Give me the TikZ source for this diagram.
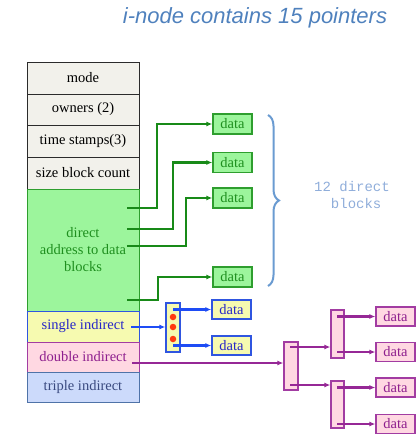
\documentclass[tikz,border=0pt]{standalone}
\usepackage{fontspec}
\setmainfont{Liberation Serif}
\newfontfamily\titlefont{Liberation Sans}
\newfontfamily\codefont{Liberation Mono}
\usetikzlibrary{arrows.meta,decorations.pathreplacing}

\definecolor{hdrfill}{HTML}{F2F1EB}
\definecolor{hdrline}{HTML}{2B2B2B}
\definecolor{grfill}{HTML}{9CF59C}
\definecolor{grline}{HTML}{2E9E2E}
\definecolor{grtext}{HTML}{1F8F1F}
\definecolor{grarrow}{HTML}{188A18}
\definecolor{yefill}{HTML}{F6FAB0}
\definecolor{blline}{HTML}{2F55E0}
\definecolor{bltext}{HTML}{2626C8}
\definecolor{blarrow}{HTML}{1E4CF5}
\definecolor{pkfill}{HTML}{FFD8E2}
\definecolor{puline}{HTML}{A23CA2}
\definecolor{putext}{HTML}{8E1F8E}
\definecolor{puarrow}{HTML}{962896}
\definecolor{trfill}{HTML}{CCDAFB}
\definecolor{trline}{HTML}{4F73A8}
\definecolor{trtext}{HTML}{3A4A80}
\definecolor{dotred}{HTML}{FF3A10}
\definecolor{titleblue}{HTML}{4F81BD}
\definecolor{bracecol}{HTML}{6A9BD1}
\definecolor{notecol}{HTML}{8FADDA}

\newcommand{\cellfont}{\fontsize{14.5}{17}\selectfont}

\begin{document}
\begin{tikzpicture}[x=1pt,y=-1pt,
  cell/.style={draw=hdrline, fill=hdrfill, line width=1pt, minimum width=112pt,
    inner sep=0pt, font=\cellfont, text=black},
  gdata/.style={draw=grline, fill=grfill, text=grtext, line width=1.3pt,
    minimum width=39pt, minimum height=20pt, inner sep=0pt, font=\cellfont},
  bdata/.style={draw=blline, fill=yefill, text=bltext, line width=1.3pt,
    minimum width=39pt, minimum height=19pt, inner sep=0pt, font=\cellfont},
  pdata/.style={draw=puline, fill=pkfill, text=putext, line width=1.3pt,
    minimum width=39pt, minimum height=19pt, inner sep=0pt, font=\cellfont},
  ptrblk/.style={line width=1.3pt, minimum width=14pt, inner sep=0pt},
  garrow/.style={draw=grarrow, line width=2.2pt, -{Latex[length=6pt,width=5pt]}},
  barrow/.style={draw=blarrow, line width=2.2pt, -{Latex[length=6pt,width=5pt]}},
  parrow/.style={draw=puarrow, line width=2.2pt, -{Latex[length=6pt,width=5pt]}},
  reddot/.style={circle, fill=dotred, inner sep=0pt, minimum size=6.5pt}
]
\useasboundingbox (0,0) rectangle (420,434);

% heading
\node[font=\titlefont\itshape\fontsize{22}{26}\selectfont, text=titleblue]
  (title) at (255,18) {i-node contains 15 pointers};

% i-node table
\node[cell, minimum height=32pt] (mode)   at (83,78)    {mode};
\node[cell, minimum height=31pt] (owners) at (83,109.5) {owners (2)};
\node[cell, minimum height=32pt] (times)  at (83,141)   {time stamps(3)};
\node[cell, minimum height=32pt] (size)   at (83,173)   {size block count};
\node[cell, minimum height=122pt, fill=grfill, draw=grline, text=grtext,
  align=center] (direct) at (83,250) {direct\\address to data\\blocks};
\node[cell, minimum height=31pt, fill=yefill, draw=blline, text=bltext]
  (single) at (83,326.5) {single indirect};
\node[cell, minimum height=30pt, fill=pkfill, draw=puline, text=putext]
  (double) at (83,357) {double indirect};
\node[cell, minimum height=30pt, fill=trfill, draw=trline, text=trtext]
  (triple) at (83,387) {triple indirect};

% direct data blocks
\node[gdata] (g1) at (232.5,124) {data};
\node[gdata] (g2) at (232.5,162.5) {data};
\node[gdata] (g3) at (232.5,198) {data};
\node[gdata] (g4) at (232.5,277) {data};

\coordinate (s1) at (127,208);
\coordinate (s2) at (127,229);
\coordinate (s3) at (127,246);
\coordinate (s4) at (127,300);
\draw[garrow] (s1) -- ++(30,0) |- (g1.west);
\draw[garrow] (s2) -- ++(46,0) |- (g2.west);
\draw[garrow] (s3) -- ++(59,0) |- (g3.west);
\draw[garrow] (s4) -- ++(31,0) |- (g4.west);

% brace and its note
\draw[bracecol, line width=2pt, decorate,
  decoration={brace, amplitude=11pt, aspect=0.5}] (268,115) -- (268,286);
\node[font=\codefont\fontsize{14}{17}\selectfont, text=notecol, align=center]
  (note) at (352,195) {12 direct\\\hphantom{x}blocks};

% single indirect
\node[ptrblk, draw=blline, fill=yefill, minimum height=49pt] (sp) at (173,327.5) {};
\node[reddot] (r1) at (173,317) {};
\node[reddot] (r2) at (173,327) {};
\node[reddot] (r3) at (173,339) {};
\node[bdata] (b1) at (231.5,309.5) {data};
\node[bdata] (b2) at (231.5,345.5) {data};
\coordinate (ss) at (131,327);
\draw[barrow] (ss) -- (ss -| sp.west);
\coordinate (sa) at (173,309.5);
\coordinate (sb) at (173,345.5);
\draw[barrow] (sa) -- (b1.west);
\draw[barrow] (sb) -- (b2.west);

% double indirect
\node[ptrblk, draw=puline, fill=pkfill, minimum height=48pt] (dp) at (291,366) {};
\node[ptrblk, draw=puline, fill=pkfill, minimum height=48pt, minimum width=13pt]
  (dq1) at (337.5,334) {};
\node[ptrblk, draw=puline, fill=pkfill, minimum height=47pt, minimum width=13pt]
  (dq2) at (337.5,404.5) {};
\node[pdata] (p1) at (395.5,316.5) {data};
\node[pdata] (p2) at (395.5,352) {data};
\node[pdata] (p3) at (395.5,387.5) {data};
\node[pdata] (p4) at (395.5,424) {data};

\coordinate (ds) at (132,363);
\draw[parrow] (ds) -- (ds -| dp.west);
\coordinate (da) at (290,347);
\coordinate (db) at (290,385);
\draw[parrow] (da) -- (da -| dq1.west);
\draw[parrow] (db) -- (db -| dq2.west);
\coordinate (qa) at (337,316.5);
\coordinate (qb) at (337,352);
\coordinate (qc) at (337,387.5);
\coordinate (qd) at (337,424);
\draw[parrow] (qa) -- (p1.west);
\draw[parrow] (qb) -- (p2.west);
\draw[parrow] (qc) -- (p3.west);
\draw[parrow] (qd) -- (p4.west);
\end{tikzpicture}
\end{document}
